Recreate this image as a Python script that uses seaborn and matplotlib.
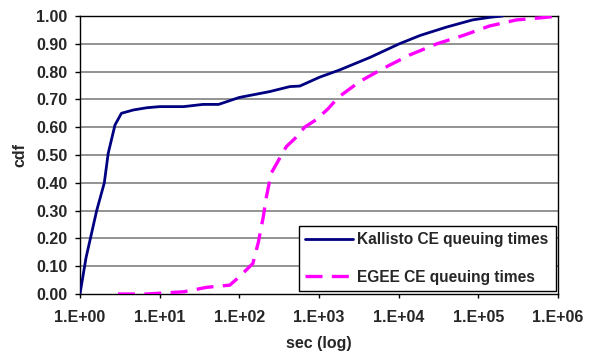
import numpy as np
import pandas as pd
import matplotlib
matplotlib.use("Agg")
import matplotlib.pyplot as plt
from matplotlib.ticker import FixedLocator, FuncFormatter
import seaborn as sns

# Queuing times (seconds) and cumulative fractions
kallisto_sec = [1.0, 1.19, 1.62, 2.02, 2.26, 2.75, 3.31, 4.68, 6.9, 10, 20, 35, 55,
                100, 240, 430, 575, 1020, 1820, 4370, 10200, 18600, 39800,
                85000, 138000, 204000]
kallisto_cdf = [0.0, 0.13, 0.30, 0.40, 0.506, 0.608, 0.65, 0.662, 0.67, 0.674, 0.674,
                0.682, 0.682, 0.707, 0.728, 0.746, 0.748, 0.78, 0.806, 0.851, 0.90,
                0.93, 0.96, 0.986, 0.995, 1.0]

egee_sec = [3.0, 6.9, 20, 39, 76, 100, 148, 174, 200, 219, 251, 309, 389, 501, 661,
            933, 1318, 1738, 3236, 6457, 13800, 30200, 64600, 138000, 302000,
            646000, 1000000]
egee_cdf = [0.0, 0.0, 0.008, 0.024, 0.032, 0.062, 0.11, 0.188, 0.278, 0.35, 0.434,
            0.48, 0.53, 0.56, 0.60, 0.628, 0.668, 0.707, 0.764, 0.812, 0.86, 0.90,
            0.93, 0.964, 0.986, 0.994, 1.0]

series_labels = ["Kallisto CE queuing times", "EGEE CE queuing times"]
x_ticks = [1e0, 1e1, 1e2, 1e3, 1e4, 1e5, 1e6]
y_ticks = [0.0, 0.1, 0.2, 0.3, 0.4, 0.5, 0.6, 0.7, 0.8, 0.9, 1.0]

FS = 11.5
LEG_FS = 11.2

sns.set_style("white")
plt.rcParams["font.family"] = ["Liberation Sans", "DejaVu Sans"]
plt.rcParams["font.weight"] = "bold"

kal = pd.DataFrame({"sec": kallisto_sec, "cdf": kallisto_cdf})
egee = pd.DataFrame({"sec": egee_sec, "cdf": egee_cdf})

fig = plt.figure(figsize=(5.96, 3.53), dpi=100)
ax = fig.add_axes([0.1342, 0.1671, 0.9362 - 0.1342, 0.9547 - 0.1671])

ax.set_xscale("log")
ax.set_xlim(1, 1e6)
ax.set_ylim(0, 1)

for y in y_ticks[1:-1]:
    ax.axhline(y, color="#808080", lw=1.2, zorder=0)

sns.lineplot(data=kal, x="sec", y="cdf", ax=ax, color="#000080", lw=2.0,
             label=series_labels[0], zorder=3)
sns.lineplot(data=egee, x="sec", y="cdf", ax=ax, color="#FF00FF", lw=2.4,
             label=series_labels[1], zorder=3)
ax.lines[-1].set_dashes((5.1, 2.8))

ax.xaxis.set_major_locator(FixedLocator(x_ticks))
ax.xaxis.set_minor_locator(FixedLocator([]))
ax.xaxis.set_major_formatter(FuncFormatter(lambda v, p: "1.E+%02d" % int(round(np.log10(v)))))
ax.yaxis.set_major_locator(FixedLocator(y_ticks))
ax.yaxis.set_major_formatter(FuncFormatter(lambda v, p: "%.2f" % v))

ax.tick_params(axis="x", which="major", direction="out", length=3, width=1,
               color="black", labelsize=FS, pad=8.5, bottom=True)
ax.tick_params(axis="y", which="major", direction="out", length=3.6, width=1,
               color="black", labelsize=FS, pad=5.5, left=True)
for lbl in ax.get_xticklabels() + ax.get_yticklabels():
    lbl.set_fontweight("bold")

for side in ["left", "bottom", "top", "right"]:
    ax.spines[side].set_visible(True)
    ax.spines[side].set_color("black")
    ax.spines[side].set_linewidth(1.0)

ax.set_xlabel("sec (log)", fontsize=FS, fontweight="bold", labelpad=8)
ax.set_ylabel("cdf", fontsize=FS, fontweight="bold", labelpad=6)

leg = ax.legend(loc="lower left", bbox_to_anchor=(0.458, 0.011, 0.538, 0.295),
                mode="expand", frameon=True, fancybox=False, framealpha=1,
                edgecolor="black", prop={"size": LEG_FS, "weight": "bold"},
                handlelength=3.1, handletextpad=0.25, labelspacing=1.45,
                borderaxespad=0)
leg.get_frame().set_linewidth(1.0)

fig.savefig("out.png", dpi=100, facecolor="white")
